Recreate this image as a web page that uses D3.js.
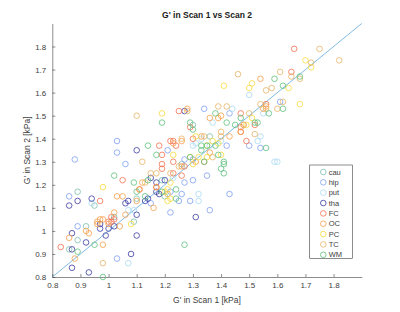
<!DOCTYPE html>
<html>
<head>
<meta charset="utf-8">
<script src="https://cdn.jsdelivr.net/npm/d3@7"></script>
<style>
  body { margin: 0; background: #fff; }
  svg { font-family: "Liberation Sans", Arial, sans-serif; }
</style>
</head>
<body>
<div id="chart"></div>
<script>
//const:
const width = 400
const height = 312
const margins = { top: 23.5, bottom: 35, left: 52.3, right: 38.3 }

// data: one array of [scan1, scan2] per region
const regions = ["cau", "hip", "put", "tha", "FC", "OC", "PC", "TC", "WM"]
const colours = ["#7dbfae", "#7f9ff0", "#a9d9f3", "#3b3ba3", "#f27150", "#f6a04a", "#f9dc3c", "#e6b466", "#5fc07e"]

const cau = [[1.30,1.46],[1.36,1.41],[1.19,1.22],[1.20,1.15],[0.89,1.17],[0.95,1.11],[0.92,1.02],[1.02,1.06],[1.09,1.04],[0.86,0.92],[0.89,0.96],[1.10,1.14],[1.26,1.29]]
const hip = [[1.61,1.56],[1.43,1.51],[1.34,1.53],[1.50,1.37],[1.54,1.36],[1.42,1.37],[1.21,1.35],[1.30,1.31],[1.27,1.31],[1.26,1.16],[1.27,1.21],[1.30,1.22],[1.35,1.24],[1.22,1.17],[1.29,1.13],[1.25,1.13],[1.22,1.08],[1.36,1.09],[1.43,1.16],[1.15,1.12],[1.03,1.39],[1.03,1.34],[1.06,1.29],[0.88,1.31],[0.86,1.15],[1.03,0.88],[0.89,1.02]]
const put = [[1.50,1.59],[1.44,1.53],[1.55,1.51],[1.37,1.47],[1.53,1.39],[1.54,1.41],[1.59,1.30],[1.60,1.30],[1.40,1.39],[1.36,1.37],[1.31,1.38],[1.30,1.37],[1.33,1.40],[1.32,1.16],[1.32,1.13],[1.23,1.23],[1.09,1.09],[1.07,1.09],[1.07,0.86],[0.94,1.12]]
const tha = [[1.27,1.52],[1.31,1.06],[1.10,1.35],[1.15,1.23],[1.17,1.21],[1.20,1.22],[1.17,1.17],[1.18,1.16],[1.13,1.13],[1.14,1.14],[1.06,1.12],[1.07,1.13],[1.10,1.07],[1.10,0.98],[1.08,0.90],[0.93,0.82],[0.87,0.84],[0.87,0.92],[0.92,0.95],[0.87,0.99],[0.99,0.98],[1.00,1.01],[1.02,1.02],[0.97,1.03],[0.97,1.01],[0.94,1.14],[0.89,1.13],[0.86,1.11]]
const FC = [[1.66,1.79],[1.65,1.69],[1.56,1.55],[1.47,1.51],[1.47,1.45],[1.47,1.43],[1.52,1.46],[1.49,1.39],[1.25,1.52],[1.29,1.45],[1.30,1.40],[1.23,1.39],[1.22,1.39],[1.24,1.37],[1.18,1.37],[1.19,1.33],[1.23,1.30],[1.19,1.29],[1.27,1.28],[1.26,1.24],[1.23,1.25],[1.17,1.19],[1.11,1.18],[1.05,1.22],[0.97,1.13],[1.01,1.06],[1.01,1.04],[1.02,1.05],[0.83,0.93],[1.00,1.04],[1.19,1.27]]
const OC = [[1.54,1.66],[1.56,1.54],[1.55,1.53],[1.36,1.49],[1.40,1.50],[1.39,1.49],[1.47,1.43],[1.48,1.46],[1.43,1.41],[1.33,1.41],[1.36,1.34],[1.34,1.30],[1.31,1.30],[1.26,1.39],[1.26,1.28],[1.23,1.38],[1.17,1.19],[1.16,1.10],[1.11,1.18],[1.10,1.13],[1.12,1.21],[1.06,1.07],[1.05,1.15],[1.03,1.15],[1.02,1.08],[1.04,1.02],[1.00,1.03],[0.97,1.05],[0.96,1.04],[0.96,1.03],[0.98,1.05],[0.93,0.99],[0.92,1.00],[0.86,0.97],[0.88,0.88],[0.98,0.94],[1.28,1.53]]
const PC = [[1.70,1.74],[1.72,1.71],[1.68,1.55],[1.64,1.62],[1.51,1.64],[1.50,1.62],[1.41,1.63],[1.51,1.49],[1.49,1.46],[1.19,1.51],[1.31,1.41],[1.37,1.39],[1.39,1.38],[1.40,1.33],[1.35,1.37],[1.30,1.29],[1.32,1.32],[1.35,1.32],[1.23,1.33],[1.22,1.21],[1.21,1.18],[1.22,1.14],[1.21,1.13],[0.98,1.19],[1.08,1.03],[1.29,1.32],[1.20,1.17]]
const TC = [[1.75,1.79],[1.82,1.74],[1.72,1.73],[1.68,1.66],[1.65,1.67],[1.61,1.69],[1.46,1.68],[1.56,1.61],[1.58,1.62],[1.62,1.56],[1.54,1.55],[1.56,1.53],[1.60,1.53],[1.39,1.54],[1.42,1.54],[1.10,1.50],[1.50,1.51],[1.48,1.46],[1.52,1.42],[1.40,1.41],[1.40,1.43],[1.34,1.41],[1.37,1.32],[1.25,1.28],[1.26,1.40],[1.12,1.30],[1.17,1.25],[1.15,1.25],[1.22,1.25],[1.21,1.16],[0.98,0.86],[1.13,1.21],[1.28,1.52]]
const WM = [[1.68,1.67],[1.59,1.66],[1.62,1.63],[1.62,1.53],[1.57,1.51],[1.52,1.47],[1.53,1.47],[1.56,1.36],[1.45,1.46],[1.42,1.47],[1.47,1.49],[1.38,1.51],[1.19,1.47],[1.29,1.47],[1.30,1.44],[1.38,1.37],[1.35,1.37],[1.33,1.37],[1.33,1.35],[1.34,1.30],[1.29,1.32],[1.41,1.30],[1.41,1.29],[1.40,1.27],[1.41,1.25],[1.39,1.33],[1.14,1.37],[1.17,1.33],[1.02,1.24],[1.09,1.21],[1.14,1.22],[1.24,1.18],[1.24,1.14],[1.19,1.17],[1.13,1.15],[1.10,1.17],[1.27,0.94],[0.98,0.80],[0.89,0.91],[0.95,0.94]]
const series = [cau, hip, put, tha, FC, OC, PC, TC, WM]

const xTicks = [0.8, 0.9, 1, 1.1, 1.2, 1.3, 1.4, 1.5, 1.6, 1.7, 1.8]
const yTicks = [0.8, 0.9, 1, 1.1, 1.2, 1.3, 1.4, 1.5, 1.6, 1.7, 1.8]
const domain = [0.8, 1.9]

const axisColour = "#404040"
const fmt = d => d === 1 ? "1" : d.toFixed(1)

let svg = d3.select('div#chart').append('svg').attr("width", width).attr("height", height)

let x = d3.scaleLinear().domain(domain).range([margins.left, width - margins.right])
let y = d3.scaleLinear().domain(domain).range([height - margins.bottom, margins.top])

// axes (MATLAB style, ticks inward, box off)
let xAxisGroup = svg.append('g').attr('transform', `translate(0, ${height - margins.bottom})`)
    .call(d3.axisBottom(x).tickValues(xTicks).tickFormat(fmt).tickSizeInner(-3).tickSizeOuter(0).tickPadding(5))
let yAxisGroup = svg.append('g').attr('transform', `translate(${margins.left}, 0)`)
    .call(d3.axisLeft(y).tickValues(yTicks).tickFormat(fmt).tickSizeInner(-3).tickSizeOuter(0).tickPadding(6))

svg.selectAll('.domain, .tick line').attr('stroke', axisColour).attr('stroke-width', 0.6)
svg.selectAll('.tick text').attr('fill', axisColour).style('font-size', '8px').style('font-family', '"Liberation Sans", Arial, sans-serif')

// identity line
svg.append('line')
    .attr('x1', x(domain[0])).attr('y1', y(domain[0]))
    .attr('x2', x(domain[1])).attr('y2', y(domain[1]))
    .attr('stroke', '#4a9ed6').attr('stroke-width', 0.7)

// points
series.forEach((pts, i) => {
    svg.append('g').attr('class', `pts ${regions[i]}`)
        .selectAll('circle').data(pts).join('circle')
        .attr('cx', d => x(d[0]))
        .attr('cy', d => y(d[1]))
        .attr('r', 2.8)
        .attr('fill', 'none')
        .attr('stroke', colours[i])
        .attr('stroke-width', 0.8)
})

// titles
svg.append('text').attr('x', (margins.left + width - margins.right) / 2).attr('y', 18)
    .attr('text-anchor', 'middle').style('font-size', '8.5px').style('font-weight', 'bold').attr('fill', '#1a1a1a')
    .text("G' in Scan 1 vs Scan 2")
svg.append('text').attr('x', (margins.left + width - margins.right) / 2).attr('y', 303)
    .attr('text-anchor', 'middle').style('font-size', '8.5px').attr('fill', axisColour)
    .text("G' in Scan 1 [kPa]")
svg.append('text').attr('transform', `translate(30, ${(margins.top + height - margins.bottom) / 2}) rotate(-90)`)
    .attr('text-anchor', 'middle').style('font-size', '8.5px').attr('fill', axisColour)
    .text("G' in Scan 2 [kPa]")

// legend
let legend = svg.append('g').attr('transform', 'translate(309.7, 165)')
legend.append('rect').attr('width', 42.6).attr('height', 93.3)
    .attr('fill', '#fff').attr('stroke', axisColour).attr('stroke-width', 0.6)
regions.forEach((r, i) => {
    legend.append('circle').attr('cx', 13.6).attr('cy', 7 + i * 10.35).attr('r', 2.8)
        .attr('fill', 'none').attr('stroke', colours[i]).attr('stroke-width', 0.8)
    legend.append('text').attr('x', 19).attr('y', 7 + i * 10.35).attr('dy', '0.35em')
        .style('font-size', '7.5px').attr('fill', axisColour).text(r)
})
</script>
</body>
</html>
